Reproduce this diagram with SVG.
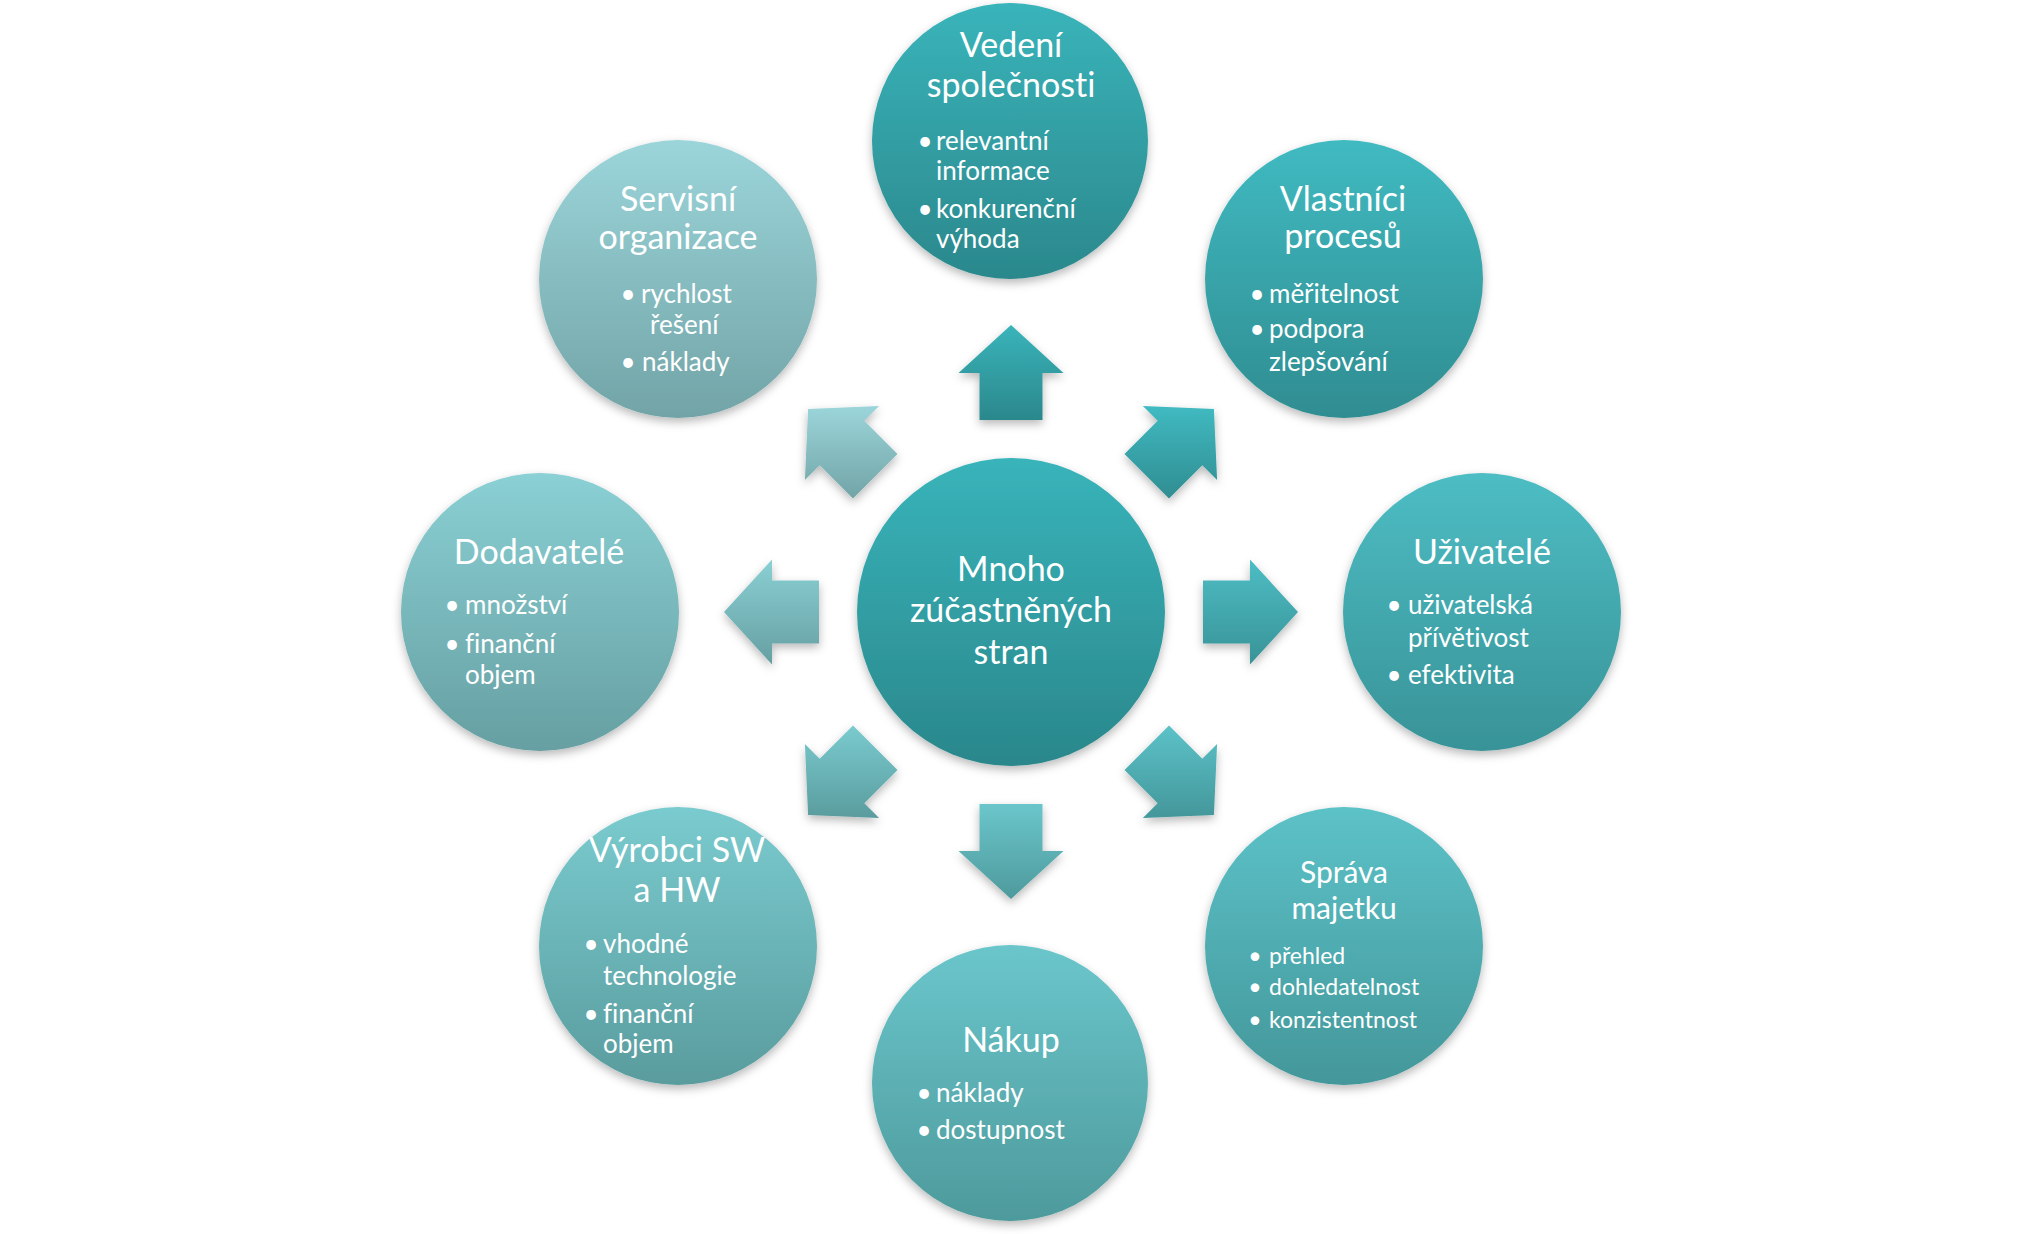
<svg xmlns="http://www.w3.org/2000/svg" width="2021" height="1234" viewBox="0 0 2021 1234">
<style>
  text { font-family: Lato, "Noto Sans", "DejaVu Sans", sans-serif; fill: #ffffff; font-variant-ligatures: none; }
  .t { font-size: 34px; text-anchor: middle; }
  .ts { font-size: 30px; text-anchor: middle; }
  .b { font-size: 26px; }
  .bs { font-size: 23px; }
  .dot { text-anchor: middle; }
  .c { filter: url(#sh); }
  .a { filter: url(#sh); }
</style>
<defs>
  <filter id="sh" x="-20%" y="-20%" width="140%" height="150%">
    <feDropShadow dx="0" dy="4" stdDeviation="5" flood-color="#000000" flood-opacity="0.28"/>
  </filter>
  <linearGradient id="g0" x1="0" y1="0" x2="0" y2="1"><stop offset="0" stop-color="#38b4ba"/><stop offset="1" stop-color="#2a878b"/></linearGradient>
  <linearGradient id="g1" x1="0" y1="0" x2="0" y2="1"><stop offset="0" stop-color="#39b4ba"/><stop offset="1" stop-color="#2b888c"/></linearGradient>
  <linearGradient id="g2" x1="0" y1="0" x2="0" y2="1"><stop offset="0" stop-color="#40bac1"/><stop offset="1" stop-color="#2f8d91"/></linearGradient>
  <linearGradient id="g3" x1="0" y1="0" x2="0" y2="1"><stop offset="0" stop-color="#4dbdc4"/><stop offset="1" stop-color="#389397"/></linearGradient>
  <linearGradient id="g4" x1="0" y1="0" x2="0" y2="1"><stop offset="0" stop-color="#5cc2c8"/><stop offset="1" stop-color="#43979a"/></linearGradient>
  <linearGradient id="g5" x1="0" y1="0" x2="0" y2="1"><stop offset="0" stop-color="#6ac6cb"/><stop offset="1" stop-color="#4e9a9c"/></linearGradient>
  <linearGradient id="g6" x1="0" y1="0" x2="0" y2="1"><stop offset="0" stop-color="#7acbcf"/><stop offset="1" stop-color="#5a9c9e"/></linearGradient>
  <linearGradient id="g7" x1="0" y1="0" x2="0" y2="1"><stop offset="0" stop-color="#8ad0d4"/><stop offset="1" stop-color="#669fa2"/></linearGradient>
  <linearGradient id="g8" x1="0" y1="0" x2="0" y2="1"><stop offset="0" stop-color="#9bd5da"/><stop offset="1" stop-color="#72a4a7"/></linearGradient>
</defs>

<g id="connectors">
  <polygon class="a" fill="url(#g1)" points="1011,325 1063.5,373 1042.5,373 1042.5,420 979.5,420 979.5,373 958.5,373"/>
  <polygon class="a" fill="url(#g2)" points="1213.9,409.1 1217.1,480.1 1202.3,465.3 1169,498.5 1124.5,454 1157.7,420.7 1142.9,405.9"/>
  <polygon class="a" fill="url(#g3)" points="1298,612 1250,664.5 1250,643.5 1203,643.5 1203,580.5 1250,580.5 1250,559.5"/>
  <polygon class="a" fill="url(#g4)" points="1213.9,814.9 1142.9,818.1 1157.7,803.3 1124.5,770 1169,725.5 1202.3,758.7 1217.1,743.9"/>
  <polygon class="a" fill="url(#g5)" points="1011,899 958.5,851 979.5,851 979.5,804 1042.5,804 1042.5,851 1063.5,851"/>
  <polygon class="a" fill="url(#g6)" points="808.1,814.9 804.9,743.9 819.7,758.7 853,725.5 897.5,770 864.3,803.3 879.1,818.1"/>
  <polygon class="a" fill="url(#g7)" points="724,612 772,559.5 772,580.5 819,580.5 819,643.5 772,643.5 772,664.5"/>
  <polygon class="a" fill="url(#g8)" points="808.1,409.1 879.1,405.9 864.3,420.7 897.5,454 853,498.5 819.7,465.3 804.9,480.1"/>
</g>

<g id="node-center">
  <circle class="c" cx="1011" cy="612" r="154" fill="url(#g0)"/>
  <text class="t" x="1011" y="581">Mnoho</text>
  <text class="t" x="1011" y="622">zúčastněných</text>
  <text class="t" x="1011" y="664">stran</text>
</g>

<g id="node-vedeni">
  <circle class="c" cx="1010" cy="141" r="138" fill="url(#g1)"/>
  <text class="t" x="1011" y="57">Vedení</text>
  <text class="t" x="1011" y="97">společnosti</text>
  <text class="b dot" x="925" y="150">•</text>
  <text class="b" x="936" y="150">relevantní</text>
  <text class="b" x="936" y="180">informace</text>
  <text class="b dot" x="925" y="218">•</text>
  <text class="b" x="936" y="218">konkurenční</text>
  <text class="b" x="936" y="248">výhoda</text>
</g>

<g id="node-vlastnici">
  <circle class="c" cx="1344" cy="279" r="139" fill="url(#g2)"/>
  <text class="t" x="1343" y="211">Vlastníci</text>
  <text class="t" x="1343" y="248">procesů</text>
  <text class="b dot" x="1257" y="303">•</text>
  <text class="b" x="1269" y="303">měřitelnost</text>
  <text class="b dot" x="1257" y="338">•</text>
  <text class="b" x="1269" y="338">podpora</text>
  <text class="b" x="1269" y="371">zlepšování</text>
</g>

<g id="node-uzivatele">
  <circle class="c" cx="1482" cy="612" r="139" fill="url(#g3)"/>
  <text class="t" x="1482" y="564">Uživatelé</text>
  <text class="b dot" x="1394" y="614">•</text>
  <text class="b" x="1408" y="614">uživatelská</text>
  <text class="b" x="1408" y="647">přívětivost</text>
  <text class="b dot" x="1394" y="684">•</text>
  <text class="b" x="1408" y="684">efektivita</text>
</g>

<g id="node-sprava">
  <circle class="c" cx="1344" cy="946" r="139" fill="url(#g4)"/>
  <text class="ts" x="1344" y="883">Správa</text>
  <text class="ts" x="1344" y="919">majetku</text>
  <text class="bs dot" x="1255" y="964">•</text>
  <text class="bs" x="1269" y="964">přehled</text>
  <text class="bs dot" x="1255" y="995">•</text>
  <text class="bs" x="1269" y="995">dohledatelnost</text>
  <text class="bs dot" x="1255" y="1028">•</text>
  <text class="bs" x="1269" y="1028">konzistentnost</text>
</g>

<g id="node-nakup">
  <circle class="c" cx="1010" cy="1083" r="138" fill="url(#g5)"/>
  <text class="t" x="1011" y="1052">Nákup</text>
  <text class="b dot" x="924" y="1102">•</text>
  <text class="b" x="936" y="1102">náklady</text>
  <text class="b dot" x="924" y="1139">•</text>
  <text class="b" x="936" y="1139">dostupnost</text>
</g>

<g id="node-vyrobci">
  <circle class="c" cx="678" cy="946" r="139" fill="url(#g6)"/>
  <text class="t" x="677" y="862">Výrobci SW</text>
  <text class="t" x="677" y="902">a HW</text>
  <text class="b dot" x="591" y="953">•</text>
  <text class="b" x="603" y="953">vhodné</text>
  <text class="b" x="603" y="985">technologie</text>
  <text class="b dot" x="591" y="1023">•</text>
  <text class="b" x="603" y="1023">finanční</text>
  <text class="b" x="603" y="1053">objem</text>
</g>

<g id="node-dodavatele">
  <circle class="c" cx="540" cy="612" r="139" fill="url(#g7)"/>
  <text class="t" x="539" y="564">Dodavatelé</text>
  <text class="b dot" x="452" y="614">•</text>
  <text class="b" x="465" y="614">množství</text>
  <text class="b dot" x="452" y="653">•</text>
  <text class="b" x="465" y="653">finanční</text>
  <text class="b" x="465" y="684">objem</text>
</g>

<g id="node-servisni">
  <circle class="c" cx="678" cy="279" r="139" fill="url(#g8)"/>
  <text class="t" x="678" y="211">Servisní</text>
  <text class="t" x="678" y="249">organizace</text>
  <text class="b dot" x="628" y="303">•</text>
  <text class="b" x="641" y="303">rychlost</text>
  <text class="b" x="650" y="334">řešení</text>
  <text class="b dot" x="628" y="371">•</text>
  <text class="b" x="642" y="371">náklady</text>
</g>
</svg>
